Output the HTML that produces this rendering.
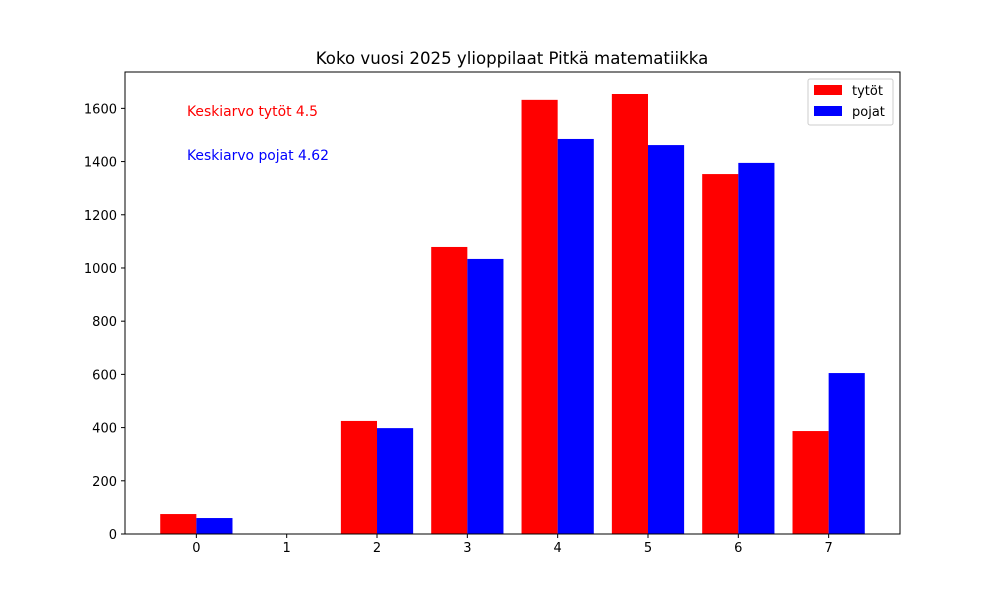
<!DOCTYPE html>
<html><head><meta charset="utf-8"><style>
body{margin:0;background:#fff;font-family:"Liberation Sans","DejaVu Sans",sans-serif;}
svg text{font-family:"DejaVu Sans","Liberation Sans",sans-serif;}
</style></head><body>
<svg id="chart" width="1000" height="600" xmlns="http://www.w3.org/2000/svg">
<rect width="1000" height="600" fill="#fff"/>
<text x="512" y="64" text-anchor="middle" font-size="16.6">Koko vuosi 2025 ylioppilaat Pitkä matematiikka</text>
<g id="bars"></g>
<g id="axes"></g>
<rect x="125" y="72" width="775" height="462" fill="none" stroke="#000" stroke-width="1"/>
<text x="187" y="116" font-size="13.9" fill="red">Keskiarvo tytöt 4.5</text>
<text x="187" y="160" font-size="13.9" fill="blue">Keskiarvo pojat 4.62</text>
<g>
<rect x="808" y="79" width="85" height="46" fill="#fff" stroke="#ccc" rx="2"/>
<rect x="814" y="85" width="28" height="10" fill="red"/>
<text x="852" y="95" font-size="13">tytöt</text>
<rect x="814" y="106" width="28" height="10" fill="blue"/>
<text x="852" y="116" font-size="13">pojat</text>
</g>
</svg>
<script>
const categories=[0,1,2,3,4,5,6,7];
const girls=[75,0,425,1079,1632,1654,1353,387];
const boys=[60,0,398,1034,1485,1462,1395,605];
const yTicks=[0,200,400,600,800,1000,1200,1400,1600];

const L=125,R=900,T=72,B=534;
const xmin=-0.79,xmax=7.79;
const ymax=Math.max(...girls,...boys)*1.05;
const xs=v=>L+(v-xmin)/(xmax-xmin)*(R-L);
const ys=v=>B-v/ymax*(B-T);
const NS="http://www.w3.org/2000/svg";
const bars=document.getElementById('bars'),axes=document.getElementById('axes');
function mk(tag,attrs,parent){const e=document.createElementNS(NS,tag);for(const k in attrs)e.setAttribute(k,attrs[k]);parent.appendChild(e);return e;}
const w=xs(0.4)-xs(0);
categories.forEach((c,i)=>{
  const r=mk('rect',{x:xs(c-0.4),y:ys(girls[i]),width:w,height:B-ys(girls[i]),fill:'red'},bars);
  
  
  const b=mk('rect',{x:xs(c),y:ys(boys[i]),width:w,height:B-ys(boys[i]),fill:'blue'},bars);
  
  
  mk('line',{x1:xs(c),x2:xs(c),y1:B,y2:B+4,stroke:'#000'},axes);
  const t=mk('text',{x:xs(c),y:B+18,'text-anchor':'middle','font-size':'13'},axes);
  t.textContent=c;
  
  
});
yTicks.forEach(v=>{
  mk('line',{x1:L-4,x2:L,y1:ys(v),y2:ys(v),stroke:'#000'},axes);
  const t=mk('text',{x:L-8,y:ys(v)+5,'text-anchor':'end','font-size':'13'},axes);
  t.textContent=v;
  
  
});
</script>
</body></html>
